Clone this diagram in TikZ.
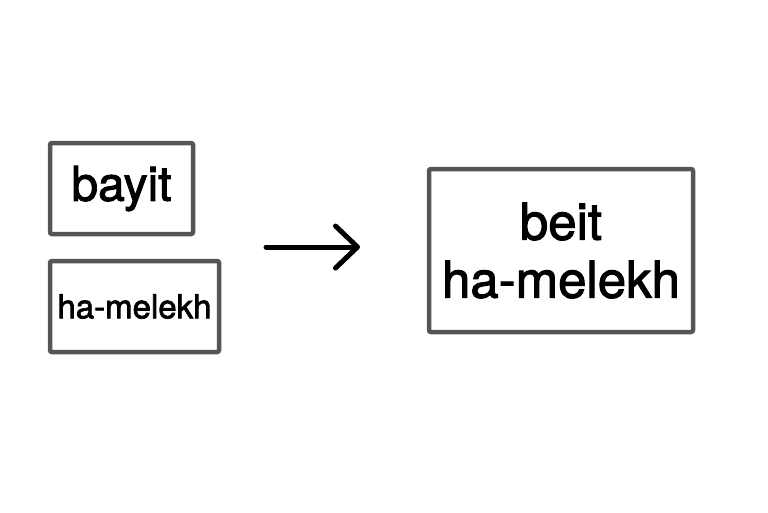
\documentclass[tikz,border=0pt]{standalone}
\usepackage{fontspec}
\setmainfont{TeX Gyre Heros}[FakeBold=2]
\usetikzlibrary{arrows.meta}
\definecolor{boxgray}{HTML}{555555}
\tikzset{
  wordbox/.style={draw=boxgray, line width=4.5pt, rounded corners=2pt, inner sep=0pt, align=center, fill=white},
  flowarrow/.style={line width=5pt, line cap=round, -{Straight Barb[length=22pt,width=42pt,line cap=round,round]}}
}
\begin{document}
\begin{tikzpicture}[x=1pt,y=-1pt]
\useasboundingbox (0,0) rectangle (768,512);
\node[wordbox, minimum width=143pt, minimum height=91pt, font=\fontsize{48}{54}\selectfont] (bayit) at (121.5,188.5) {bayit};
\node[wordbox, minimum width=169pt, minimum height=91pt, font=\fontsize{33}{38}\selectfont] (hamelekh) at (134.5,306.5) {ha-melekh};
\node[wordbox, minimum width=264pt, minimum height=163pt, font=\fontsize{51}{58}\selectfont] (beit) at (561,250.5) {beit\\ha-melekh};
\coordinate (a1) at (266,247);
\coordinate (a2) at (360,247);
\draw[flowarrow] (a1) -- (a2);
\end{tikzpicture}
\end{document}
